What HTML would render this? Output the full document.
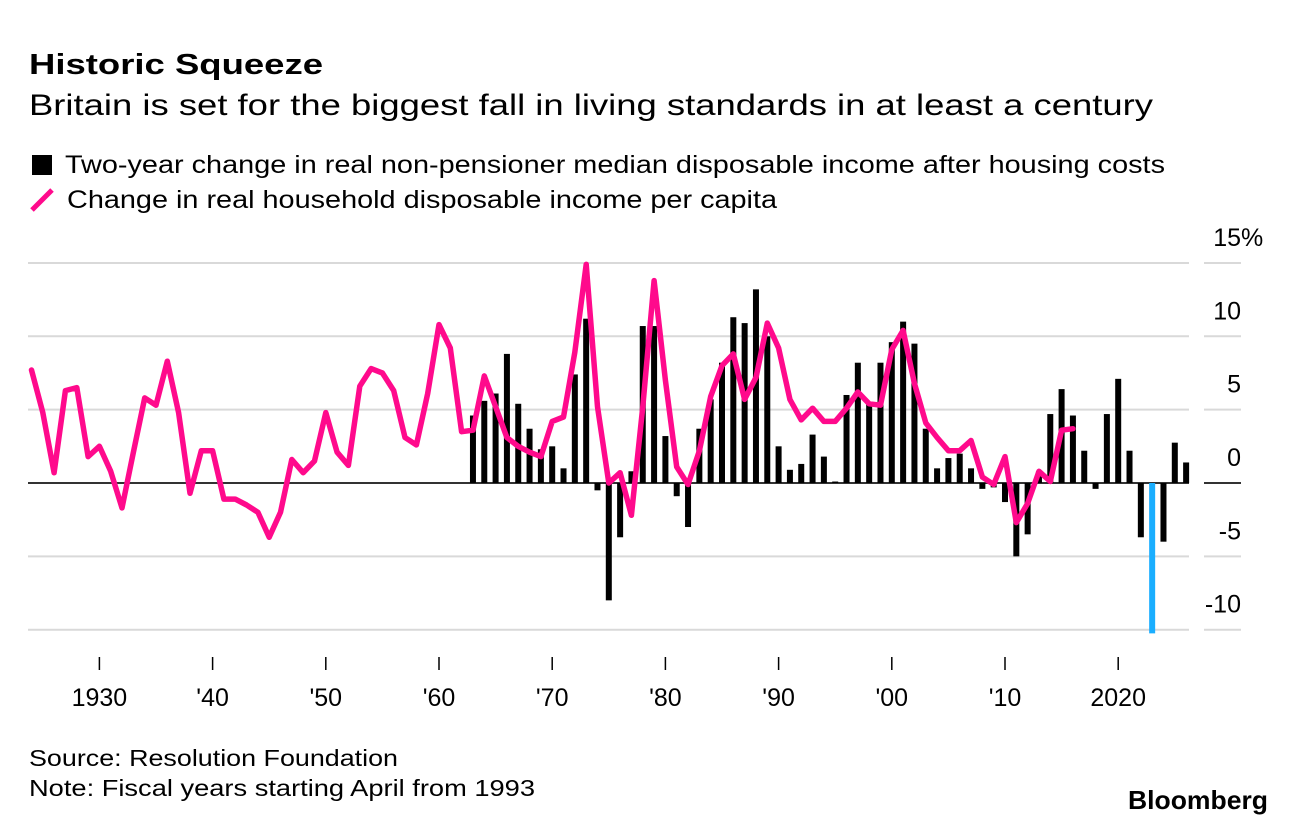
<!DOCTYPE html>
<html><head><meta charset="utf-8">
<style>
html,body{margin:0;padding:0;background:#fff;}
svg{display:block;font-family:"Liberation Sans",Arial,sans-serif;}
</style></head>
<body>
<svg id="chart" width="1296" height="826" viewBox="0 0 1296 826" xmlns="http://www.w3.org/2000/svg">
<text x="29" y="74" font-size="29" font-weight="bold" textLength="294" lengthAdjust="spacingAndGlyphs" fill="#000">Historic Squeeze</text>
<text x="29" y="115" font-size="30" textLength="1124" lengthAdjust="spacingAndGlyphs" fill="#000">Britain is set for the biggest fall in living standards in at least a century</text>
<rect x="32" y="155" width="20" height="20" fill="#000"/>
<text x="65" y="173" font-size="25" textLength="1100" lengthAdjust="spacingAndGlyphs" fill="#000">Two-year change in real non-pensioner median disposable income after housing costs</text>
<line x1="32" y1="210" x2="52" y2="190" stroke="#ff0a8c" stroke-width="5" stroke-linecap="butt"/>
<text x="67" y="208" font-size="25" textLength="710" lengthAdjust="spacingAndGlyphs" fill="#000">Change in real household disposable income per capita</text>
<g id="grid"></g>
<g id="bars"></g>
<g id="line"></g>
<g id="xaxis"></g>
<g id="yaxis"></g>
<text x="29" y="766" font-size="23" textLength="369" lengthAdjust="spacingAndGlyphs" fill="#000">Source: Resolution Foundation</text>
<text x="29" y="796" font-size="23" textLength="506" lengthAdjust="spacingAndGlyphs" fill="#000">Note: Fiscal years starting April from 1993</text>
<text x="1128" y="809" font-size="26" font-weight="bold" textLength="140" lengthAdjust="spacingAndGlyphs" fill="#000">Bloomberg</text>
</svg>
<script>
const yTicks = [15, 10, 5, 0, -5, -10];
const yTickLabels = ["15%", "10", "5", "0", "-5", "-10"];
const xTickYears = [1930, 1940, 1950, 1960, 1970, 1980, 1990, 2000, 2010, 2020];
const xTickLabels = ["1930", "'40", "'50", "'60", "'70", "'80", "'90", "'00", "'10", "2020"];
const lineStartYear = 1924;
const lineValues = [7.7,4.8,0.7,6.3,6.5,1.8,2.5,0.8,-1.7,2.1,5.8,5.3,8.3,4.8,-0.7,2.2,2.2,-1.1,-1.1,-1.5,-2.0,-3.7,-2.0,1.6,0.7,1.5,4.8,2.1,1.2,6.6,7.8,7.5,6.3,3.1,2.6,6.1,10.8,9.2,3.5,3.6,7.3,5.2,3.1,2.5,2.1,1.8,4.2,4.5,8.9,14.9,5.2,0.0,0.7,-2.2,5.2,13.8,7.0,1.1,-0.1,2.2,5.9,8.0,8.8,5.7,7.2,10.9,9.2,5.7,4.3,5.1,4.2,4.2,5.1,6.2,5.4,5.3,9.1,10.4,6.8,4.1,3.1,2.2,2.2,2.9,0.4,-0.1,1.8,-2.7,-1.4,0.8,0.1,3.6,3.7];
const barStartYear = 1963;
const barValues = [4.6,5.6,6.1,8.8,5.4,3.7,2.3,2.5,1.0,7.4,11.2,-0.5,-8.0,-3.7,0.8,10.7,10.7,3.2,-0.9,-3.0,3.7,5.7,8.2,11.3,10.9,13.2,10.0,2.5,0.9,1.3,3.3,1.8,0.1,6.0,8.2,5.5,8.2,9.6,11.0,9.5,3.7,1.0,1.7,2.0,1.0,-0.4,-0.3,-1.3,-5.0,-3.5,0.8,4.7,6.4,4.6,2.2,-0.4,4.7,7.1,2.2,-3.7,-10.25,-4.0,2.75,1.4];
const highlightYear = 2023;

const NS = "http://www.w3.org/2000/svg";
function yScale(v){ return 483 - v * 14.67; }
function xScale(yr){ return 99.4 + (yr - 1930) * 11.32; }
function mk(tag, attrs, parent){ const e = document.createElementNS(NS, tag); for (const k in attrs) e.setAttribute(k, attrs[k]); parent.appendChild(e); return e; }

const grid = document.getElementById('grid');
const yaxis = document.getElementById('yaxis');
yTicks.forEach((t, i) => {
  const y = yScale(t);
  if (t !== 0) {
    const g = mk('line', {x1: 28, x2: 1189, y1: y, y2: y, stroke: '#d9d9d9', 'stroke-width': 2}, grid);
    
    
  }
  const g2 = mk('line', {x1: 1204, x2: 1241, y1: y, y2: y, stroke: t === 0 ? '#333' : '#d9d9d9', 'stroke-width': 2}, grid);
  
  
  const lbl = mk('text', {x: 1241, y: y - 17, 'font-size': 25, fill: '#000', 'text-anchor': 'start'}, yaxis);
  lbl.textContent = yTickLabels[i];
  
  
});
// right-align numbers so "15" aligns, % hangs
Array.from(yaxis.children).forEach((el, i) => {
  const full = el.getComputedTextLength();
  let w = full;
  if (yTickLabels[i].endsWith('%')) {
    const tmp = mk('text', {'font-size': 25}, yaxis);
    tmp.textContent = yTickLabels[i].replace('%', '');
    w = tmp.getComputedTextLength();
    yaxis.removeChild(tmp);
  }
  el.setAttribute('x', 1241 - w);
});

const bars = document.getElementById('bars');
barValues.forEach((v, i) => {
  const yr = barStartYear + i;
  const x = xScale(yr);
  const y0 = yScale(0), y1 = yScale(v);
  const r = mk('rect', {x: x - 3, y: Math.min(y0, y1), width: 6, height: Math.max(1, Math.abs(y1 - y0)), fill: yr === highlightYear ? '#1aaeff' : '#000'}, bars);
  
  
});
const zero = mk('line', {x1: 28, x2: 1189, y1: yScale(0), y2: yScale(0), stroke: '#333', 'stroke-width': 2}, grid);



const lineG = document.getElementById('line');
const pts = lineValues.map((v, i) => xScale(lineStartYear + i).toFixed(1) + ',' + yScale(v).toFixed(1)).join(' ');
const pl = mk('polyline', {points: pts, fill: 'none', stroke: '#ff0a8c', 'stroke-width': 5.5, 'stroke-linejoin': 'round', 'stroke-linecap': 'round'}, lineG);



const xaxis = document.getElementById('xaxis');
xTickYears.forEach((yr, i) => {
  const x = xScale(yr);
  const t = mk('line', {x1: x, x2: x, y1: 657, y2: 670, stroke: '#000', 'stroke-width': 1.5}, xaxis);
  
  
  const l = mk('text', {x: x, y: 706, 'font-size': 25, 'text-anchor': 'middle', fill: '#000'}, xaxis);
  l.textContent = xTickLabels[i];
  
  
});
</script>
</body></html>
